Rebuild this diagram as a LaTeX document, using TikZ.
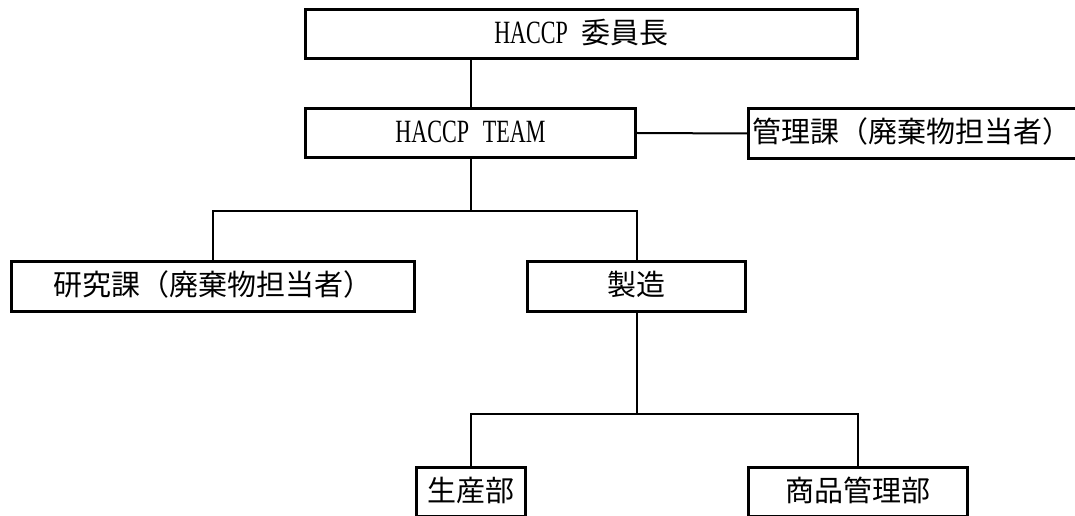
\documentclass[tikz,border=0pt]{standalone}
\usepackage{fontspec}
\setmainfont[Scale=1.12, FakeStretch=0.68, WordSpace=2.5]{Liberation Serif}
\newfontfamily\jpfont{Noto Sans CJK JP}

\begin{document}
\begin{tikzpicture}[x = 0.75pt, y = -0.75pt,
        post/.style = {draw, line width = 2.2pt, minimum height = 37pt, inner sep = 0pt,
            font = \fontsize{21.75pt}{26pt}\selectfont, text height = 16pt, text depth = 2pt},
        link/.style = {line width = 1.5pt}]
        \useasboundingbox (0, 0) rectangle (1075, 516);
        \node [post, minimum width = 414pt] (chair) at (581.5, 34) {HACCP {\jpfont 委員長}};
        \node [post, minimum width = 247pt] (team) at (470.5, 133) {HACCP TEAM};
        \node [post, anchor = west, text width = 246pt, align = left, inner xsep = 3pt] (kanri) at (747, 133.5) {\jpfont 管理課（廃棄物担当者）};
        \node [post, minimum width = 302pt] (kenkyu) at (213, 286.5) {\jpfont 研究課（廃棄物担当者）};
        \node [post, minimum width = 163pt] (seizo) at (636.5, 286.5) {\jpfont 製造};
        \node [post, minimum width = 82pt] (seisan) at (471, 492) {\jpfont 生産部};
        \node [post, minimum width = 164pt] (shohin) at (858, 492) {\jpfont 商品管理部};
        \coordinate (upper) at (0, 211);
        \coordinate (lower) at (0, 414);
        \draw [link] (team.north) -- (team.north |- chair.south);
        \draw [link] (team.east) -- (kanri.west);
        \draw [link] (team.south) -- (team.south |- upper);
        \draw [link] (kenkyu.north) |- (upper -| seizo.north) -- (seizo.north);
        \draw [link] (seizo.south) -- (seizo.south |- lower);
        \draw [link] (seisan.north) |- (lower -| shohin.north) -- (shohin.north);
    \end{tikzpicture}
\end{document}
